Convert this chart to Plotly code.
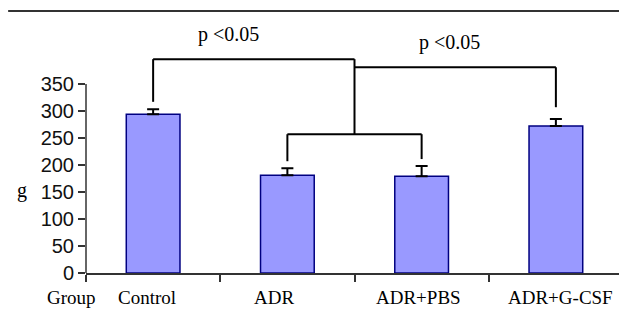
import plotly.graph_objects as go

groups = ["Control", "ADR", "ADR+PBS", "ADR+G-CSF"]
weight_g = [294, 181, 179, 272]
weight_err = [9, 13, 19, 13]
y_ticks = [0, 50, 100, 150, 200, 250, 300, 350]
p_label = "p <0.05"

BAR_FILL = "#9999ff"
BAR_EDGE = "#000080"
SERIF = "Liberation Serif, Times New Roman, serif"
SANS = "Liberation Sans, Arial, sans-serif"

fig = go.Figure()
fig.add_trace(go.Bar(
    x=groups, y=weight_g,
    marker=dict(color=BAR_FILL, line=dict(color=BAR_EDGE, width=1.5)),
    error_y=dict(type="data", array=weight_err, arrayminus=[0] * len(weight_err),
                 symmetric=False, color="black", thickness=2, width=6),
    width=0.4,
))

# bracket levels (data units)
top1, top2, low = 396, 381, 257
line = dict(color="black", width=2)
shapes = []
def seg(x0, y0, x1, y1):
    shapes.append(dict(type="line", xref="x", yref="y", x0=x0, y0=y0, x1=x1, y1=y1, line=line))

# upper bracket: Control -> middle
seg(0, 317, 0, top1)
seg(0, top1, 1.5, top1)
seg(1.5, top1, 1.5, low)
# middle -> ADR+G-CSF
seg(1.5, top2, 3, top2)
seg(3, top2, 3, 307)
# lower bracket ADR / ADR+PBS
seg(1, low, 2, low)
seg(1, low, 1, 207)
seg(2, low, 2, 211)
# y axis line from 0 to 350
shapes.append(dict(type="line", xref="paper", yref="y", x0=0, x1=0, y0=0, y1=350,
                   line=dict(color="#333333", width=1.5)))
# top rule
shapes.append(dict(type="line", xref="paper", yref="paper", x0=-0.145, x1=1.01, y0=1.036, y1=1.036,
                   line=dict(color="#333333", width=2)))

annotations = [
    dict(x=0.56, y=441, xref="x", yref="y", text=p_label, showarrow=False,
         font=dict(family=SERIF, size=20, color="black")),
    dict(x=2.21, y=426, xref="x", yref="y", text=p_label, showarrow=False,
         font=dict(family=SERIF, size=20, color="black")),
    dict(x=-0.133, y=152, xref="paper", yref="y", text="g", showarrow=False,
         font=dict(family=SERIF, size=20, color="black")),
    dict(x=0.022, y=-0.095, xref="paper", yref="paper", text="Group", showarrow=False,
         xanchor="right", yanchor="middle",
         font=dict(family=SERIF, size=19, color="black")),
]
label_shift = [-6, -13, -3, 5]
for g, s in zip(groups, label_shift):
    annotations.append(dict(x=g, y=-0.095, xref="x", yref="paper", text=g, showarrow=False,
                            xshift=s, yanchor="middle",
                            font=dict(family=SERIF, size=19, color="black")))

fig.update_layout(
    width=619, height=316,
    margin=dict(l=78, r=4, t=12, b=51),
    plot_bgcolor="white", paper_bgcolor="white",
    showlegend=False,
    shapes=shapes, annotations=annotations,
    xaxis=dict(range=[-0.5, 3.5], showline=True, linecolor="#333333", linewidth=1.5,
               ticks="outside", tickson="boundaries", ticklen=7, tickcolor="#333333",
               tickwidth=1.5, showgrid=False, zeroline=False, automargin=False,
               showticklabels=False),
    yaxis=dict(range=[0, 468.5], tickvals=y_ticks, showline=False, ticks="outside",
               ticklen=7, tickcolor="#333333", tickwidth=1.5, showgrid=False, zeroline=False,
               automargin=False,
               tickfont=dict(family=SANS, size=20, color="#111111")),
)

fig.write_html("out.html")
